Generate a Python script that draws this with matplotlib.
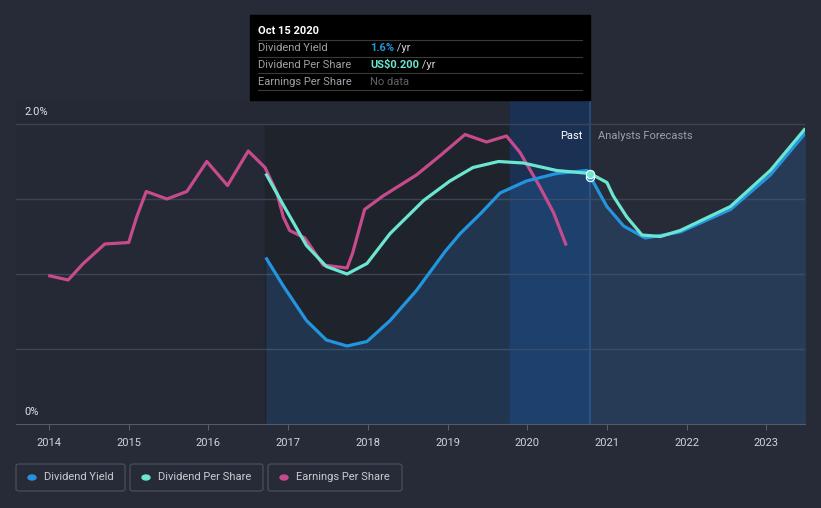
import matplotlib
matplotlib.use("Agg")
import matplotlib.pyplot as plt
from matplotlib.patches import Rectangle, FancyBboxPatch, Circle
from matplotlib.lines import Line2D

plt.rcParams["font.family"] = ["Roboto", "DejaVu Sans"]

W, H = 821, 508

# data (decimal years, percent of axis scale)
eps_t = [2013.99, 2014.24, 2014.43, 2014.70, 2015.00, 2015.10, 2015.22, 2015.48, 2015.73,
         2015.98, 2016.24, 2016.50, 2016.71, 2016.86, 2016.94, 2017.02, 2017.21, 2017.44,
         2017.74, 2017.81, 2017.96, 2018.19, 2018.61, 2018.91, 2019.22, 2019.49, 2019.74,
         2019.91, 2020.16, 2020.33, 2020.49]
eps_v = [0.99, 0.96, 1.07, 1.20, 1.21, 1.38, 1.55, 1.50, 1.55,
         1.75, 1.59, 1.82, 1.71, 1.54, 1.38, 1.29, 1.24, 1.06,
         1.04, 1.14, 1.43, 1.52, 1.66, 1.79, 1.93, 1.88, 1.92,
         1.81, 1.58, 1.41, 1.19]

dy_t = [2016.72, 2016.94, 2017.23, 2017.48, 2017.74, 2017.99, 2018.28, 2018.61, 2018.97,
        2019.16, 2019.41, 2019.66, 2019.99, 2020.37, 2020.75, 2020.79, 2021.00, 2021.21,
        2021.48, 2021.92, 2022.55, 2023.05, 2023.49]
dy_v = [1.11, 0.92, 0.69, 0.56, 0.52, 0.55, 0.69, 0.89, 1.15,
        1.27, 1.40, 1.54, 1.62, 1.67, 1.69, 1.65, 1.45, 1.32,
        1.24, 1.28, 1.43, 1.66, 1.94]

dps_t = [2016.72, 2016.94, 2017.23, 2017.48, 2017.74, 2017.99, 2018.28, 2018.70, 2019.03,
         2019.32, 2019.64, 2019.95, 2020.37, 2020.79, 2021.00, 2021.08, 2021.25, 2021.44,
         2021.67, 2021.92, 2022.55, 2023.05, 2023.49]
dps_v = [1.67, 1.46, 1.19, 1.05, 1.00, 1.07, 1.27, 1.49, 1.62,
         1.71, 1.75, 1.74, 1.69, 1.67, 1.61, 1.52, 1.38, 1.26,
         1.25, 1.29, 1.45, 1.69, 1.97]

years = list(range(2014, 2024))
past_end = 2020.79
dark_start, band_start = 2016.71, 2019.78

BG = "#262b37"
fig = plt.figure(figsize=(W / 100, H / 100), dpi=100)
fig.patch.set_facecolor(BG)


def fx(px):
    return px / W


def fy(py):
    return 1 - py / H


x0, x1 = 2014 + (16 - 49) / 79.7, 2014 + (805 - 49) / 79.7
ax = fig.add_axes([fx(16), fy(424), fx(805) - fx(16), (424 - 100) / H])
ax.set_facecolor("#242935")
ax.set_xlim(x0, x1)
ax.set_ylim(0, 324 / 150)

top = 300 / 324
ax.axvspan(dark_start, band_start, ymax=top, color="#1f232c", zorder=0)
ax.axvspan(band_start, past_end, color="#1a3257", alpha=0.9, zorder=0)
ax.axvspan(past_end, x1, color=BG, zorder=0)
ax.axvline(past_end, color="#2a4f80", lw=1.2, zorder=1)

for g in [0.5, 1.0, 1.5, 2.0]:
    ax.axhline(g, color="#3d4350", lw=1, zorder=1)

ax.fill_between(dy_t, 0, dy_v, color="#2d78c8", alpha=0.22, lw=0, zorder=2)

kw = dict(lw=2.3, solid_joinstyle="round", solid_capstyle="butt")
ax.plot(eps_t, eps_v, color="#c64b8c", zorder=3, **kw)
ax.plot(dy_t, dy_v, color="#2394df", zorder=4, **kw)
ax.plot(dps_t, dps_v, color="#6ce5d1", zorder=5, **kw)

ax.plot([past_end], [dy_v[15]], "o", ms=6, mfc="#2394df", mec="white", mew=0.8, zorder=6)
ax.plot([past_end], [dps_v[13]], "o", ms=6, mfc="#6ce5d1", mec="white", mew=0.8, zorder=7)

for s in ["top", "right", "left"]:
    ax.spines[s].set_visible(False)
ax.spines["bottom"].set_color("#555b66")
ax.set_yticks([])
ax.set_xticks(years)
ax.set_xticklabels([str(y) for y in years], color="#d0d3d8", fontsize=8)
ax.tick_params(axis="x", length=4, color="#555b66", pad=6)

fig.text(fx(24), fy(112), "2.0%", color="#e0e2e6", fontsize=8, va="center")
fig.text(fx(24), fy(412), "0%", color="#e0e2e6", fontsize=8, va="center")

fig.text(fx(582), fy(136), "Past", color="white", fontsize=8, ha="right", va="center")
fig.text(fx(598), fy(136), "Analysts Forecasts", color="#9aa0a8", fontsize=8, ha="left", va="center")

# tooltip
fig.add_artist(Rectangle((fx(250), fy(100)), fx(590) - fx(250), (100 - 15) / H,
                         transform=fig.transFigure, color="black", zorder=10))
fig.text(fx(258), fy(31), "Oct 15 2020", color="white", fontsize=8, fontweight="bold",
         va="center", zorder=11)
for ly in [40, 57, 73, 90]:
    fig.add_artist(Line2D([fx(258), fx(582)], [fy(ly), fy(ly)], transform=fig.transFigure,
                          color="#3a3a3a", lw=0.8, zorder=11))
rows = [("Dividend Yield", "1.6%", "#2394df", " /yr"),
        ("Dividend Per Share", "US$0.200", "#6ce5d1", " /yr"),
        ("Earnings Per Share", "No data", "#5f6368", "")]
for i, (lab, val, col, suf) in enumerate(rows):
    yy = fy(48 + i * 17)
    fig.text(fx(258), yy, lab, color="#9ea2a8", fontsize=8, va="center", zorder=11)
    t = fig.text(fx(370), yy, val, color=col, fontsize=8, va="center", zorder=11,
                 fontweight="bold" if suf else "normal")
    if suf:
        fig.canvas.draw()
        bb = t.get_window_extent()
        fig.text(bb.x1 / W, yy, suf, color="#d0d3d8", fontsize=8, va="center", zorder=11)

# legend
legend = [("Dividend Yield", "#2394df", 16, 125),
          ("Dividend Per Share", "#6ce5d1", 130, 263),
          ("Earnings Per Share", "#c64b8c", 268, 402)]
for lab, col, a, b in legend:
    fig.add_artist(FancyBboxPatch((fx(a), fy(491)), fx(b) - fx(a), (491 - 464) / H,
                                  boxstyle="round,pad=0,rounding_size=0.004",
                                  transform=fig.transFigure, fc="none", ec="#454b57", lw=1))
    fig.add_artist(Circle((fx(a + 16), fy(477.5)), 4 / W, transform=fig.transFigure,
                          color=col))
    fig.text(fx(a + 28), fy(477.5), lab, color="#c8ccd2", fontsize=8, va="center")

fig.savefig("out.png", dpi=100, facecolor=BG)
